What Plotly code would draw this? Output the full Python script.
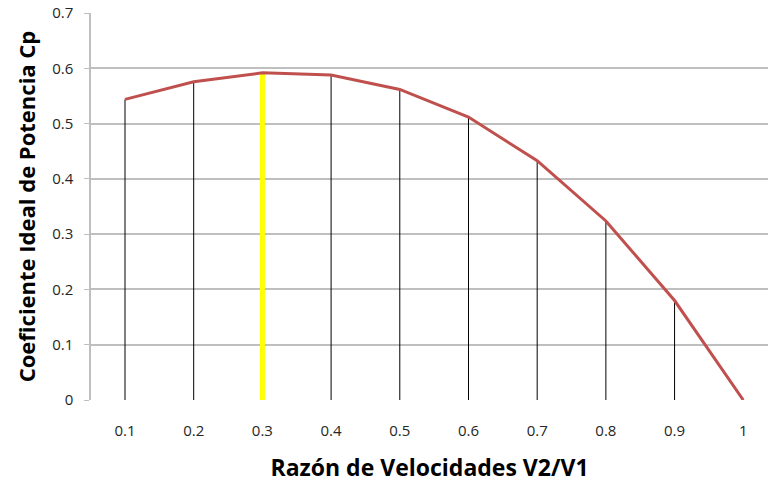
import plotly.graph_objects as go

ratio = [0.1, 0.2, 0.3, 0.4, 0.5, 0.6, 0.7, 0.8, 0.9, 1.0]
cp = [0.544, 0.576, 0.592, 0.588, 0.562, 0.512, 0.433, 0.324, 0.180, 0.0]
x_ticks = ["0.1", "0.2", "0.3", "0.4", "0.5", "0.6", "0.7", "0.8", "0.9", "1"]
y_ticks = [0, 0.1, 0.2, 0.3, 0.4, 0.5, 0.6, 0.7]
y_tick_labels = ["0", "0.1", "0.2", "0.3", "0.4", "0.5", "0.6", "0.7"]
highlight_ratio = 0.3

FONT = "Open Sans"

drop_x, drop_y = [], []
for xv, yv in zip(ratio, cp):
    if xv == highlight_ratio:
        continue
    drop_x += [xv, xv, None]
    drop_y += [0, yv, None]

hi_y = cp[ratio.index(highlight_ratio)]

fig = go.Figure()
fig.add_trace(go.Scatter(x=drop_x, y=drop_y, mode="lines",
                         line=dict(color="black", width=1), showlegend=False, hoverinfo="skip"))
fig.add_trace(go.Scatter(x=[highlight_ratio, highlight_ratio], y=[0, hi_y], mode="lines",
                         line=dict(color="#FFFF00", width=5), showlegend=False))
fig.add_trace(go.Scatter(x=ratio, y=cp, mode="lines",
                         line=dict(color="#C0504D", width=3), showlegend=False))

fig.update_layout(
    width=768, height=487,
    margin=dict(l=91, r=0, t=13, b=87, autoexpand=False),
    paper_bgcolor="white", plot_bgcolor="white",
    font=dict(family=FONT, size=15, color="#262626"),
    xaxis=dict(
        range=[0.0505, 1.036],
        tickvals=ratio, ticktext=x_ticks,
        showgrid=False, zeroline=False,
        showline=False, ticks="",
        tickfont=dict(size=15),
        ticklabelstandoff=20,
        title=dict(text="<b>Razón de Velocidades V2/V1</b>", font=dict(size=23, color="black"), standoff=20),
    ),
    yaxis=dict(
        range=[0, 0.7003],
        tickvals=y_ticks, ticktext=y_tick_labels,
        showgrid=True, gridcolor="#BFBFBF", gridwidth=1.5,
        zeroline=False,
        showline=True, linecolor="#BFBFBF", linewidth=1.5,
        ticks="outside", ticklen=5, tickcolor="#BFBFBF",
        tickfont=dict(size=15),
        ticklabelstandoff=8,
        ticklabeloverflow="allow",
        title=dict(text="<b>Coeficiente Ideal de Potencia Cp</b>", font=dict(size=22, color="black"), standoff=10),
    ),
)

fig.write_html("out.html", config={"displayModeBar": False},
               post_script="document.body.style.margin='0';")
